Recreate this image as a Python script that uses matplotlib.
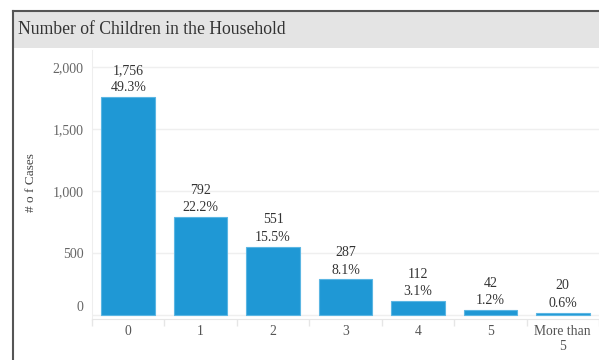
import matplotlib.pyplot as plt
from matplotlib.patches import Rectangle
from matplotlib.lines import Line2D
from matplotlib.transforms import ScaledTranslation

# data
categories = ["0", "1", "2", "3", "4", "5", "More than\n5"]
cases = [1756, 792, 551, 287, 112, 42, 20]
shares = ["49.3%", "22.2%", "15.5%", "8.1%", "3.1%", "1.2%", "0.6%"]
y_ticks = [0, 500, 1000, 1500, 2000]

plt.rcParams["font.family"] = ["Liberation Serif", "DejaVu Serif"]

fig = plt.figure(figsize=(5.99, 3.6), dpi=100)
W, H = 599, 360

# frame lines and grey title band
fig.patches.append(Rectangle((13 / W, 1 - 48 / H), 1 - 13 / W, 36 / H,
                             transform=fig.transFigure, facecolor="#e4e4e4",
                             edgecolor="none", zorder=-1))
fig.lines.append(Line2D([13 / W, 13 / W], [0, 1 - 11 / H], transform=fig.transFigure,
                        color="#555555", lw=1.5, zorder=2))
fig.lines.append(Line2D([13 / W, 1], [1 - 11 / H, 1 - 11 / H], transform=fig.transFigure,
                        color="#555555", lw=1.5, zorder=2))
fig.text(18 / W, 1 - 30 / H, "Number of Children in the Household",
         fontsize=12.7, color="#333333", va="center", ha="left")
fig.text(31 / W, 1 - 183 / H, "# o f Cases", rotation=90, fontsize=9.5,
         color="#444444", va="center", ha="center")

ax = fig.add_axes([92 / W, 1 - 319 / H, 1 - 92 / W, (319 - 50) / H])
x = list(range(len(categories)))
ax.bar(x, cases, width=0.74, color="#1f98d5", edgecolor="#5bb6e3",
       linewidth=0.8, zorder=3)

for xi, v, s in zip(x, cases, shares):
    ax.annotate(f"{v:,}\n{s}", (xi, v), xytext=(0, 2), textcoords="offset points",
                ha="center", va="bottom", fontsize=10, color="#333333",
                linespacing=1.45)

ax.set_xlim(-0.48, 6.49)
ax.set_ylim(-32, 2137)
ax.set_yticks(y_ticks)
ax.set_yticklabels([f"{t:,}" for t in y_ticks])
ax.set_xticks(x)
ax.set_xticklabels(categories)
ax.set_xticks([i + 0.5 for i in range(-1, len(categories))], minor=True)

ax.grid(axis="y", color="#efefef", lw=1, zorder=0)
ax.tick_params(axis="y", length=0, labelsize=10, labelcolor="#666666", pad=6)
ax.tick_params(axis="x", which="major", length=0, labelsize=9.8,
               labelcolor="#555555", pad=4)
ax.tick_params(axis="x", which="minor", length=5, color="#e6e6e6", width=1)

# lift the zero label off the baseline
zero = ax.get_yticklabels()[0]
zero.set_transform(zero.get_transform() + ScaledTranslation(0, 0.09, fig.dpi_scale_trans))

for side in ["top", "right"]:
    ax.spines[side].set_visible(False)
ax.spines["left"].set_color("#eeeeee")
ax.spines["bottom"].set_color("#e6e6e6")

fig.savefig("out.png", dpi=100)
